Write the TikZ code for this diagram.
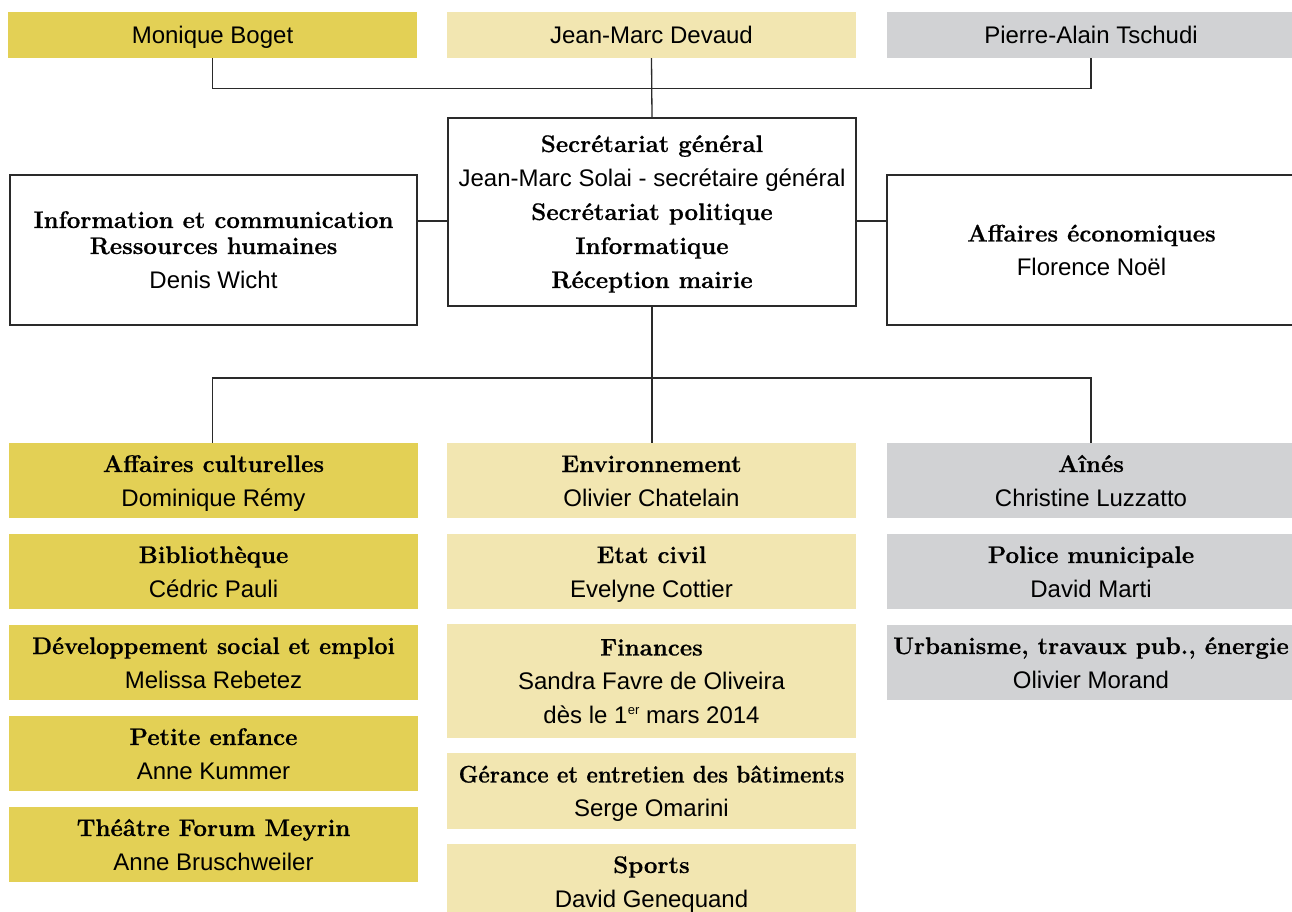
\documentclass[tikz,border=0pt]{standalone}
\usepackage{fontspec}
\usepackage{graphicx}
\newfontfamily\sansf{Liberation Sans}
\newfontfamily\hdfont{lmroman12-bold.otf}[FakeBold=0.6]
\usetikzlibrary{calc}
\definecolor{gold}{HTML}{E3D055}
\definecolor{pale}{HTML}{F2E6B1}
\definecolor{grayb}{HTML}{D1D2D4}
\definecolor{linec}{HTML}{2A2A2A}
\newcommand\hdr[1]{{\hdfont #1}}
\newcommand\nme[1]{{\sansf #1}}
\tikzset{
  box/.style={rectangle, inner sep=0pt, minimum width=409pt, align=center,
    font=\fontsize{24}{34}\selectfont, text=black, text depth=0pt, text height=17pt},
  unit/.style={box, minimum height=75pt, text height=51pt},
  frame/.style={box, draw=linec, line width=1.3pt},
  conn/.style={draw=linec, line width=1.3pt},
}
\begin{document}
\begin{tikzpicture}[x=1pt,y=-1pt]
\useasboundingbox (0,0) rectangle (1292,912);
% top row
\node[box, fill=gold, minimum height=46pt] (mb) at (212.5,35) {\nme{Monique Boget}};
\node[box, fill=pale, minimum height=46pt] (jd) at (651.5,35) {\nme{Jean-Marc Devaud}};
\node[box, fill=grayb, minimum height=46pt] (pt) at (1091,35) {\nme{Pierre-Alain Tschudi}};
% middle row
\node[frame, minimum width=408pt, minimum height=188pt, text height=152pt] (sg) at (652,212)
  {\hdr{Secrétariat général}\\\nme{Jean-Marc Solai - secrétaire général}\\\hdr{Secrétariat politique}\\\hdr{Informatique}\\\hdr{Réception mairie}};
\node[frame, minimum width=407pt, minimum height=150pt, text height=76pt] (ic) at (213.5,250)
  {\hdr{Information et communication}\\[-8pt]\hdr{Ressources humaines}\\\nme{Denis Wicht}};
\node[frame, minimum width=409pt, minimum height=150pt, text height=51pt] (ae) at (1091.5,250)
  {\hdr{Affaires économiques}\\\nme{Florence Noël}};
% column 1
\node[unit, fill=gold] (a1) at (213.5,480.5) {\hdr{Affaires culturelles}\\\nme{Dominique Rémy}};
\node[unit, fill=gold] (a2) at (213.5,571.5) {\hdr{Bibliothèque}\\\nme{Cédric Pauli}};
\node[unit, fill=gold] (a3) at (213.5,662.5) {\scalebox{0.965}[1]{\hdr{Développement social et emploi}}\\\nme{Melissa Rebetez}};
\node[unit, fill=gold] (a4) at (213.5,753.5) {\hdr{Petite enfance}\\\nme{Anne Kummer}};
\node[unit, fill=gold] (a5) at (213.5,844.5) {\hdr{Théâtre Forum Meyrin}\\\nme{Anne Bruschweiler}};
% column 2
\node[unit, fill=pale] (b1) at (651.5,480.5) {\hdr{Environnement}\\\nme{Olivier Chatelain}};
\node[unit, fill=pale] (b2) at (651.5,571.5) {\hdr{Etat civil}\\\nme{Evelyne Cottier}};
\node[unit, fill=pale, minimum height=114pt, text height=85pt] (b3) at (651.5,681)
  {\hdr{Finances}\\\nme{Sandra Favre de Oliveira}\\\nme{dès le 1\kern0.5pt\raisebox{9pt}{\fontsize{13}{13}\selectfont er} mars 2014}};
\node[unit, fill=pale, minimum height=76pt] (b4) at (651.5,791) {\scalebox{0.927}[1]{\hdr{Gérance et entretien des bâtiments}}\\\nme{Serge Omarini}};
\node[unit, fill=pale] (b5) at (651.5,881.5) {\hdr{Sports}\\\nme{David Genequand}};
% column 3
\node[unit, fill=grayb] (g1) at (1091,480.5) {\hdr{Aînés}\\\nme{Christine Luzzatto}};
\node[unit, fill=grayb] (g2) at (1091,571.5) {\hdr{Police municipale}\\\nme{David Marti}};
\node[unit, fill=grayb] (g3) at (1091,662.5) {\hdr{Urbanisme, travaux pub., énergie}\\\nme{Olivier Morand}};
% connectors
\draw[conn] (mb.south) -- ++(0,30) -| (pt.south);
\draw[conn] (jd.south) -- (sg.north);
\draw[conn] ([yshift=-9pt]sg.west) -- ([yshift=-9pt]sg.west -| ic.east);
\draw[conn] ([yshift=-9pt]sg.east) -- ([yshift=-9pt]sg.east -| ae.west);
\coordinate (bar) at (652,378);
\draw[conn] (sg.south) -- (bar) -- (bar |- b1.north);
\coordinate (lft) at (212.5,378);
\draw[conn] (lft |- a1.north) -- (lft) -| (g1.north);
\end{tikzpicture}
\end{document}
